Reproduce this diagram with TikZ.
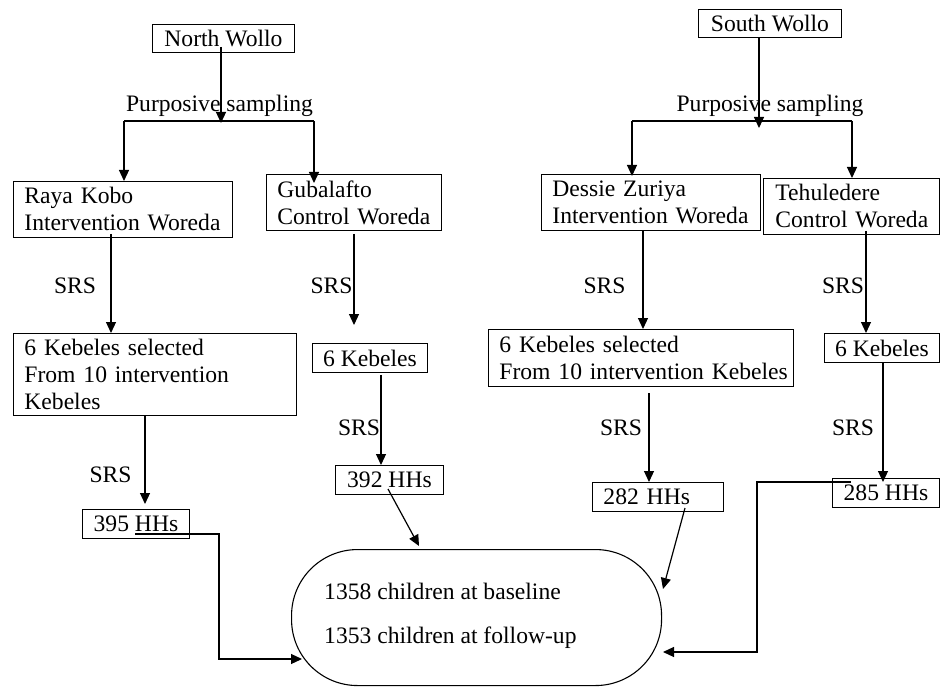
\documentclass[tikz,border=0pt]{standalone}
\usepackage{fontspec}
\setmainfont{Liberation Serif}
\usetikzlibrary{arrows.meta,calc}
\begin{document}
\begin{tikzpicture}[x=1pt,y=-1pt,
  every node/.style={font=\fontsize{23.6}{27}\selectfont},
  lbox/.style={draw, line width=0.9pt, rectangle, anchor=north west, align=left, inner xsep=11pt, inner ysep=0pt},
  cbox/.style={draw, line width=0.9pt, rectangle, anchor=north west, align=center, inner sep=0pt},
  lbl/.style={anchor=base, inner sep=0pt},
  conn/.style={line width=1.2pt},
  arr/.style={line width=1.2pt, -{Triangle[length=11pt,width=10pt]}}]
\useasboundingbox (0,0) rectangle (940,687);

% ---- boxes ----
\node[cbox, minimum width=142pt, minimum height=28pt] (nw) at (152,24) {North Wollo};
\node[cbox, minimum width=143pt, minimum height=28pt] (sw) at (698,9) {South Wollo};
\node[lbox, text width=197pt, minimum height=56pt] (rk) at (13,181) {\mbox{Raya Kobo}\\\mbox{Intervention Woreda}};
\node[lbox, text width=153pt, minimum height=56pt] (gb) at (266,174) {\mbox{Gubalafto}\\\mbox{Control Woreda}};
\node[lbox, text width=197pt, minimum height=56pt] (dz) at (541,174) {\mbox{Dessie Zuriya}\\\mbox{Intervention Woreda}};
\node[lbox, inner xsep=12pt, text width=152pt, minimum height=56pt] (th) at (763,178) {\mbox{Tehuledere}\\\mbox{Control Woreda}};
\node[lbox, text width=261pt, minimum height=82pt] (k1) at (13,333) {\mbox{6 Kebeles selected}\\\mbox{From 10 intervention}\\\mbox{Kebeles}};
\node[cbox, minimum width=115pt, minimum height=29pt] (k2) at (312,343) {6 Kebeles};
\node[lbox, text width=283pt, minimum height=57pt] (k3) at (488,329) {\mbox{6 Kebeles selected}\\\mbox{From 10 intervention Kebeles}};
\node[cbox, minimum width=115pt, minimum height=29pt] (k4) at (824,333) {6 Kebeles};
\node[cbox, minimum width=107pt, minimum height=29pt] (h1) at (82,509) {395 HHs};
\node[cbox, minimum width=108pt, minimum height=29pt] (h2) at (335,465) {392 HHs};
\node[lbox, text width=109pt, minimum height=29pt] (h3) at (592,482) {\mbox{282 HHs}};
\node[cbox, minimum width=107pt, minimum height=29pt] (h4) at (832,478) {285 HHs};
\node[draw, line width=1.1pt, rectangle, rounded corners=66pt, anchor=north west, inner sep=0pt,
      minimum width=370pt, minimum height=136pt] (out) at (291,549) {};
\node[anchor=base west, inner sep=0pt] (t1) at (324,599) {1358 children at baseline};
\node[anchor=base west, inner sep=0pt] (t2) at (324,643) {1353 children at follow-up};

% ---- labels ----
\node[lbl] (ps1) at (219.5,112) {Purposive sampling};
\node[lbl] (ps2) at (770,112) {Purposive sampling};
\node[lbl] (s1) at (75,294) {SRS};
\node[lbl] (s2) at (331.5,294) {SRS};
\node[lbl] (s3) at (604.5,294) {SRS};
\node[lbl] (s4) at (843,294) {SRS};
\node[lbl] (s5) at (110.5,482) {SRS};
\node[lbl] (s6) at (359,435) {SRS};
\node[lbl] (s7) at (621,435) {SRS};
\node[lbl] (s8) at (853,435) {SRS};

% ---- coordinates ----
\coordinate (nwt) at (221,123);
\coordinate (nL) at (124,121);
\coordinate (nR) at (314,121);
\coordinate (gbt) at (314,183);
\coordinate (k1t) at (111,333);
\coordinate (k2t) at (354,325);
\coordinate (h2t) at (381,465);
\coordinate (h1t) at (145,504);
\coordinate (h1s) at (135,534);
\coordinate (bendL) at (219,659);
\coordinate (inL) at (302,659);
\coordinate (h2s) at (388,489);
\coordinate (inT) at (419,546);
\coordinate (swt) at (759,128);
\coordinate (sL) at (632,121);
\coordinate (sR) at (852,121);
\coordinate (dzt) at (632,176);
\coordinate (tht) at (852,178);
\coordinate (k3t) at (643,329);
\coordinate (k3s) at (649,393);
\coordinate (h3t) at (649,482);
\coordinate (k4t) at (866,333);
\coordinate (h4t) at (883,482);
\coordinate (h3s) at (685,508);
\coordinate (inR1) at (663,589);
\coordinate (h4s) at (851,482);
\coordinate (bendR) at (757,652);
\coordinate (inR2) at (663,652);

% ---- connectors, north ----
\draw[arr] ([yshift=6pt]nw.south -| nwt) -- (nwt);
\draw[conn] (nL) -- (nR);
\draw[arr] (nL) -- (nL |- rk.north);
\draw[arr] (nR) -- (gbt);
\draw[arr] ([yshift=4pt]rk.south -| k1t) -- (k1t);
\draw[arr] ([yshift=-3pt]gb.south -| k2t) -- (k2t);
\draw[arr] ([yshift=-2pt]k2.south -| h2t) -- (h2t);
\draw[arr] (k1.south -| h1t) -- (h1t);
\draw[conn, -{Triangle[length=11pt,width=10pt]}] (h1s) -| (bendL) -- (inL);
\draw[arr] (h2s) -- (inT);

% ---- connectors, south ----
\draw[arr] (sw.south -| swt) -- (swt);
\draw[conn] (sL) -- (sR);
\draw[arr] (sL) -- (dzt);
\draw[arr] (sR) -- (tht);
\draw[arr] (dz.south -| k3t) -- (k3t);
\draw[arr] (k3s) -- (h3t);
\draw[arr] ([yshift=4pt]th.south -| k4t) -- (k4t);
\draw[arr] (k4.south -| h4t) -- (h4t);
\draw[arr] (h3s) -- (inR1);
\draw[conn, -{Triangle[length=11pt,width=10pt]}] (h4s) -| (bendR) -- (inR2);
\end{tikzpicture}
\end{document}
